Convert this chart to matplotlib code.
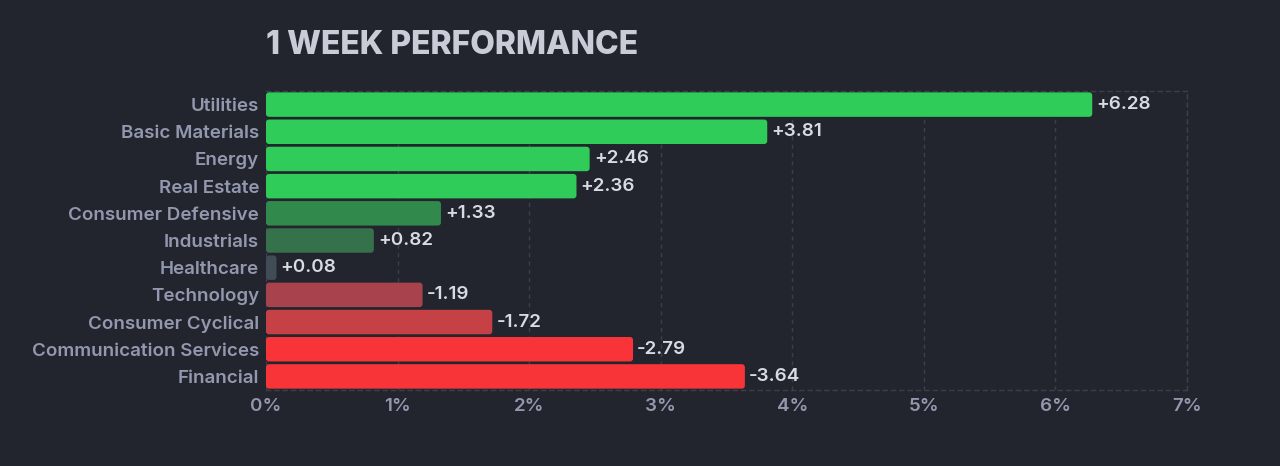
import numpy as np
import matplotlib.pyplot as plt
from matplotlib.patches import FancyBboxPatch
from matplotlib.ticker import FuncFormatter

sectors = ["Utilities", "Basic Materials", "Energy", "Real Estate",
           "Consumer Defensive", "Industrials", "Healthcare", "Technology",
           "Consumer Cyclical", "Communication Services", "Financial"]
change = [6.28, 3.81, 2.46, 2.36, 1.33, 0.82, 0.08, -1.19, -1.72, -2.79, -3.64]
bar_colors = ["#30cc5a", "#30cc5a", "#30cc5a", "#30cc5a", "#31894c", "#35714a",
              "#414c56", "#a8434e", "#c54146", "#f83439", "#f83439"]
xticks = [0, 1, 2, 3, 4, 5, 6, 7]

bg = "#22252e"
grid_col = "#3b3f4b"

fig = plt.figure(figsize=(12.8, 4.66), dpi=100, facecolor=bg)
ax = fig.add_axes([0.2078, 0.1631, 0.7195, 0.6416], facecolor=bg)

y = np.arange(len(sectors))
widths = np.abs(change)
bars = ax.barh(y, widths, height=0.9, color=bar_colors)

# swap plain rectangles for rounded ones
for b in bars:
    x0, y0 = b.get_x(), b.get_y()
    w, h = b.get_width(), b.get_height()
    b.set_visible(False)
    r = min(0.023, w / 2)
    patch = FancyBboxPatch((x0, y0), w, h,
                           boxstyle=f"round,pad=0,rounding_size={r}",
                           mutation_aspect=4.84, facecolor=b.get_facecolor(),
                           edgecolor="none", zorder=3)
    ax.add_patch(patch)

for yi, w, v in zip(y, widths, change):
    ax.annotate(f"{v:+.2f}", (w, yi), xytext=(3, 0), textcoords="offset points",
                va="center", ha="left", fontsize=13.5, color="#d9dbe2",
                fontfamily="Inter", fontweight="semibold")

ax.set_xlim(0, 7)
ax.set_ylim(10.5, -0.5)
ax.set_xticks(xticks)
ax.xaxis.set_major_formatter(FuncFormatter(lambda v, p: f"{v:.0f}%"))
ax.set_yticks(y)
ax.set_yticklabels(sectors)
ax.tick_params(length=0, colors="#9398ae", labelsize=13.5, pad=6)
ax.tick_params(axis="y", pad=5)
for lab in ax.get_xticklabels() + ax.get_yticklabels():
    lab.set_fontfamily("Inter")
    lab.set_fontweight("semibold")

ax.grid(axis="x", color=grid_col, linestyle=(0, (3, 3)), linewidth=1, zorder=0)
ax.set_axisbelow(True)
for side, sp in ax.spines.items():
    if side == "left":
        sp.set_visible(False)
    else:
        sp.set_color(grid_col)
        sp.set_linestyle((0, (3, 3)))
        sp.set_linewidth(1)

fig.text(0.2078, 1 - 45 / 466, "1 WEEK PERFORMANCE", ha="left", va="center",
         fontsize=23, fontweight="heavy", color="#c9ccd6", fontfamily="Inter")

fig.savefig("out.png", dpi=100, facecolor=bg)
